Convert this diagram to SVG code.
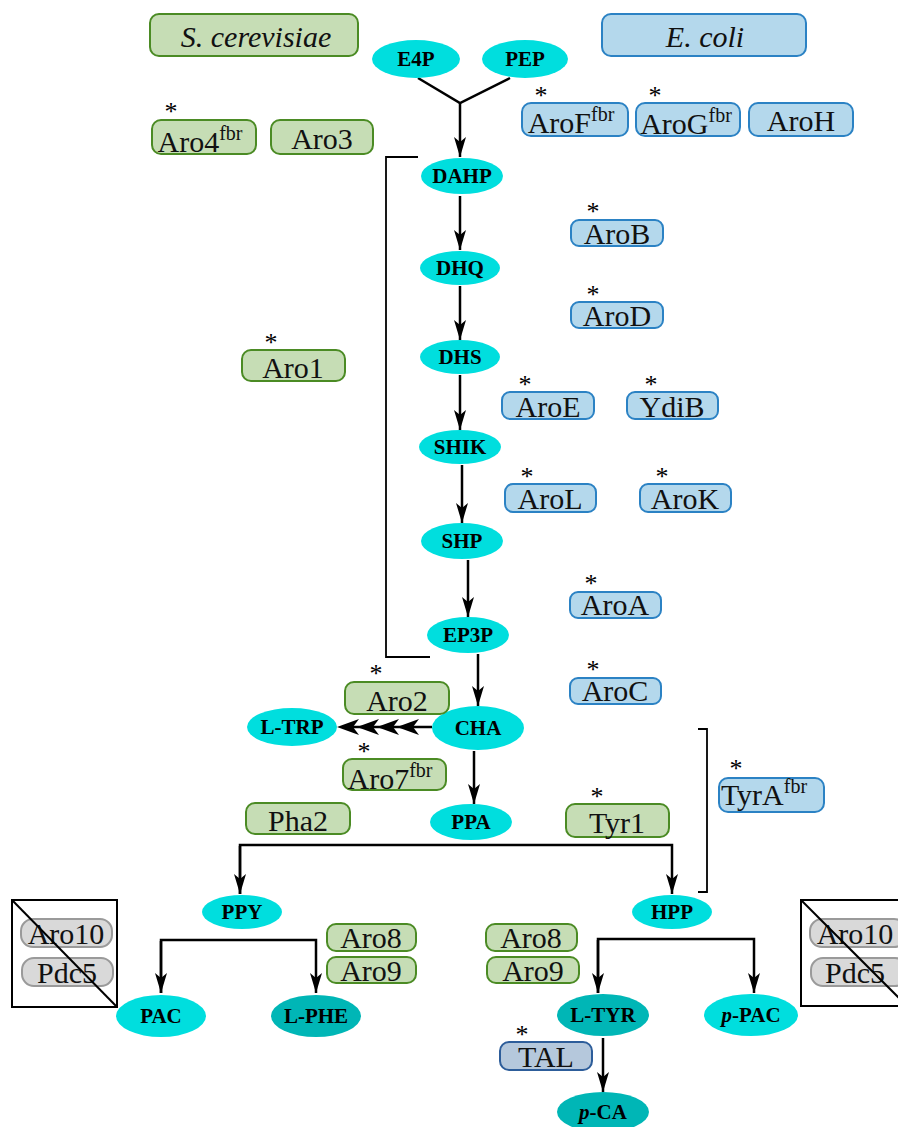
<svg xmlns="http://www.w3.org/2000/svg" width="898" height="1127" viewBox="0 0 898 1127">
<defs>
<marker id="ah" viewBox="0 0 20 12" refX="20" refY="6" markerWidth="20" markerHeight="12" markerUnits="userSpaceOnUse" orient="auto">
<path d="M0,0 L20,6 L0,12 L5,6 Z" fill="#000"/>
</marker>
<style>
.m{fill:#00dede}
.d{fill:#00b6b6}
.mt{font-family:"Liberation Serif",serif;font-weight:bold;font-size:21px;text-anchor:middle;fill:#000}
.g{fill:#c6ddb5;stroke:#4b8b24;stroke-width:2}
.b{fill:#b4d8ec;stroke:#2b82c4;stroke-width:2}
.gr{fill:#d9d9d9;stroke:#9a9a9a;stroke-width:2}
.t{fill:#b5c8dc;stroke:#2d5d9a;stroke-width:2}
.et{font-family:"Liberation Serif",serif;font-size:30px;text-anchor:middle;fill:#111}
.sp{font-size:20px}
.ast{font-family:"Liberation Serif",serif;font-size:26px;text-anchor:middle;fill:#000}
.ln{fill:none;stroke:#000;stroke-width:2.5}
.br{fill:none;stroke:#000;stroke-width:1.8}
</style>
</defs>

<g id="connectors">
<path class="ln" d="M418,78 L460,103 L510,78"/>
<line class="ln" x1="460" y1="103" x2="460" y2="157" marker-end="url(#ah)"/>
<line class="ln" x1="460" y1="196" x2="460" y2="250" marker-end="url(#ah)"/>
<line class="ln" x1="460" y1="286" x2="460" y2="340" marker-end="url(#ah)"/>
<line class="ln" x1="460" y1="375" x2="460" y2="430" marker-end="url(#ah)"/>
<line class="ln" x1="462" y1="465" x2="462" y2="523" marker-end="url(#ah)"/>
<line class="ln" x1="468" y1="560" x2="468" y2="617" marker-end="url(#ah)"/>
<line class="ln" x1="478" y1="654" x2="478" y2="706" marker-end="url(#ah)"/>
<line class="ln" x1="474" y1="751" x2="474" y2="804" marker-end="url(#ah)"/>
<line class="ln" x1="432" y1="727" x2="345" y2="727"/>
<path d="M337,727 L359,719 L353,727 L359,735 Z M357,727 L379,719 L373,727 L379,735 Z M377,727 L399,719 L393,727 L399,735 Z M397,727 L419,719 L413,727 L419,735 Z" fill="#000"/>
<path class="ln" d="M240,894 L240,845 L672,845 L672,894" marker-end="url(#ah)"/>
<line class="ln" x1="240" y1="846" x2="240" y2="894" marker-end="url(#ah)"/>
<path class="ln" d="M161,993 L161,940 L316,940 L316,993" marker-end="url(#ah)"/>
<line class="ln" x1="161" y1="941" x2="161" y2="993" marker-end="url(#ah)"/>
<path class="ln" d="M598,993 L598,939 L754,939 L754,993" marker-end="url(#ah)"/>
<line class="ln" x1="598" y1="940" x2="598" y2="993" marker-end="url(#ah)"/>
<line class="ln" x1="603" y1="1038" x2="603" y2="1092" marker-end="url(#ah)"/>
<path class="br" d="M418,157 L386,157 L386,657 L430,657"/>
<path class="br" d="M698,729 L707,729 L707,892 L698,892"/>
</g>

<g id="n-E4P"><ellipse class="m" cx="416" cy="59" rx="44" ry="19"/><text class="mt" x="416" y="66">E4P</text></g>
<g id="n-PEP"><ellipse class="m" cx="525" cy="59" rx="43" ry="19"/><text class="mt" x="525" y="66">PEP</text></g>
<g id="n-DAHP"><ellipse class="m" cx="462" cy="176" rx="41" ry="18"/><text class="mt" x="462" y="183">DAHP</text></g>
<g id="n-DHQ"><ellipse class="m" cx="460" cy="268" rx="40" ry="17"/><text class="mt" x="460" y="275">DHQ</text></g>
<g id="n-DHS"><ellipse class="m" cx="460" cy="357" rx="40" ry="17"/><text class="mt" x="460" y="364">DHS</text></g>
<g id="n-SHIK"><ellipse class="m" cx="460" cy="447" rx="41" ry="17"/><text class="mt" x="460" y="454">SHIK</text></g>
<g id="n-SHP"><ellipse class="m" cx="462" cy="541" rx="41" ry="18"/><text class="mt" x="462" y="548">SHP</text></g>
<g id="n-EP3P"><ellipse class="m" cx="468" cy="635" rx="41" ry="18"/><text class="mt" x="468" y="642">EP3P</text></g>
<g id="n-CHA"><ellipse class="m" cx="478" cy="728" rx="46" ry="22"/><text class="mt" x="478" y="735">CHA</text></g>
<g id="n-LTRP"><ellipse class="m" cx="292" cy="727" rx="45" ry="19"/><text class="mt" x="292" y="734">L-TRP</text></g>
<g id="n-PPA"><ellipse class="m" cx="471" cy="822" rx="41" ry="18"/><text class="mt" x="471" y="829">PPA</text></g>
<g id="n-PPY"><ellipse class="m" cx="242" cy="912" rx="40" ry="17"/><text class="mt" x="242" y="919">PPY</text></g>
<g id="n-HPP"><ellipse class="m" cx="672" cy="912" rx="40" ry="17"/><text class="mt" x="672" y="919">HPP</text></g>
<g id="n-PAC"><ellipse class="m" cx="161" cy="1016" rx="45" ry="21"/><text class="mt" x="161" y="1023">PAC</text></g>
<g id="n-LPHE"><ellipse class="d" cx="316" cy="1016" rx="45" ry="21"/><text class="mt" x="316" y="1023">L-PHE</text></g>
<g id="n-LTYR"><ellipse class="d" cx="603" cy="1015" rx="46" ry="21"/><text class="mt" x="603" y="1022">L-TYR</text></g>
<g id="n-pPAC"><ellipse class="m" cx="751" cy="1015" rx="47" ry="21"/><text class="mt" x="751" y="1022"><tspan font-style="italic">p</tspan>-PAC</text></g>
<g id="n-pCA"><ellipse class="d" cx="603" cy="1112" rx="46" ry="20"/><text class="mt" x="603" y="1119"><tspan font-style="italic">p</tspan>-CA</text></g>

<g id="e-Scer"><rect class="g" x="150" y="14" width="208" height="42" rx="9"/><text class="et" x="256" y="47" font-size="37" font-style="italic">S. cerevisiae</text></g>
<g id="e-Ecoli"><rect class="b" x="602" y="14" width="204" height="42" rx="9"/><text class="et" x="705" y="47" font-size="37" font-style="italic">E. coli</text></g>

<g id="e-Aro4"><rect class="g" x="152" y="120" width="104" height="34" rx="9"/><text class="ast" x="171" y="120">*</text><text class="et" x="200" y="152">Aro4<tspan class="sp" dy="-12">fbr</tspan></text></g>
<g id="e-Aro3"><rect class="g" x="271" y="120" width="102" height="34" rx="9"/><text class="et" x="322" y="149">Aro3</text></g>
<g id="e-AroF"><rect class="b" x="522" y="103" width="106" height="33" rx="9"/><text class="ast" x="541" y="104">*</text><text class="et" x="571" y="133">AroF<tspan class="sp" dy="-12">fbr</tspan></text></g>
<g id="e-AroG"><rect class="b" x="636" y="103" width="104" height="33" rx="9"/><text class="ast" x="655" y="104">*</text><text class="et" x="686" y="134">AroG<tspan class="sp" dy="-12">fbr</tspan></text></g>
<g id="e-AroH"><rect class="b" x="749" y="103" width="104" height="33" rx="9"/><text class="et" x="801" y="131">AroH</text></g>
<g id="e-AroB"><rect class="b" x="571" y="220" width="92" height="26" rx="8"/><text class="ast" x="593" y="220">*</text><text class="et" x="617" y="244">AroB</text></g>
<g id="e-AroD"><rect class="b" x="571" y="302" width="92" height="26" rx="8"/><text class="ast" x="593" y="303">*</text><text class="et" x="617" y="326">AroD</text></g>
<g id="e-Aro1"><rect class="g" x="242" y="350" width="103" height="31" rx="9"/><text class="ast" x="271" y="351">*</text><text class="et" x="293" y="378">Aro1</text></g>
<g id="e-AroE"><rect class="b" x="502" y="392" width="92" height="27" rx="8"/><text class="ast" x="525" y="393">*</text><text class="et" x="548" y="417">AroE</text></g>
<g id="e-YdiB"><rect class="b" x="627" y="392" width="91" height="27" rx="8"/><text class="ast" x="651" y="393">*</text><text class="et" x="672" y="417">YdiB</text></g>
<g id="e-AroL"><rect class="b" x="505" y="484" width="91" height="28" rx="8"/><text class="ast" x="527" y="485">*</text><text class="et" x="550" y="509">AroL</text></g>
<g id="e-AroK"><rect class="b" x="640" y="484" width="91" height="28" rx="8"/><text class="ast" x="662" y="485">*</text><text class="et" x="685" y="509">AroK</text></g>
<g id="e-AroA"><rect class="b" x="570" y="592" width="91" height="26" rx="8"/><text class="ast" x="591" y="592">*</text><text class="et" x="615" y="615">AroA</text></g>
<g id="e-AroC"><rect class="b" x="570" y="678" width="91" height="26" rx="8"/><text class="ast" x="593" y="678">*</text><text class="et" x="615" y="701">AroC</text></g>
<g id="e-Aro2"><rect class="g" x="345" y="682" width="104" height="32" rx="9"/><text class="ast" x="376" y="682">*</text><text class="et" x="397" y="711">Aro2</text></g>
<g id="e-Aro7"><rect class="g" x="343" y="759" width="103" height="31" rx="9"/><text class="ast" x="364" y="760">*</text><text class="et" x="390" y="789">Aro7<tspan class="sp" dy="-12">fbr</tspan></text></g>
<g id="e-Pha2"><rect class="g" x="246" y="803" width="104" height="31" rx="9"/><text class="et" x="298" y="831">Pha2</text></g>
<g id="e-Tyr1"><rect class="g" x="566" y="804" width="103" height="33" rx="9"/><text class="ast" x="597" y="805">*</text><text class="et" x="617" y="833">Tyr1</text></g>
<g id="e-TyrA"><rect class="b" x="719" y="778" width="105" height="34" rx="9"/><text class="ast" x="736" y="777">*</text><text class="et" x="764" y="805">TyrA<tspan class="sp" dy="-12">fbr</tspan></text></g>

<g id="e-knockout-left">
<rect class="gr" x="21" y="919" width="91" height="28" rx="12"/><text class="et" x="66" y="944">Aro10</text>
<rect class="gr" x="22" y="958" width="91" height="28" rx="12"/><text class="et" x="67" y="983">Pdc5</text>
<rect x="12" y="900" width="105" height="107" fill="none" stroke="#000" stroke-width="2"/>
<line x1="12" y1="900" x2="117" y2="1007" stroke="#000" stroke-width="2"/>
</g>
<g id="e-Aro8L"><rect class="g" x="327" y="924" width="89" height="27" rx="9"/><text class="et" x="371" y="948">Aro8</text></g>
<g id="e-Aro9L"><rect class="g" x="327" y="957" width="89" height="26" rx="9"/><text class="et" x="371" y="981">Aro9</text></g>
<g id="e-Aro8R"><rect class="g" x="486" y="924" width="91" height="27" rx="9"/><text class="et" x="531" y="948">Aro8</text></g>
<g id="e-Aro9R"><rect class="g" x="487" y="957" width="92" height="26" rx="9"/><text class="et" x="533" y="981">Aro9</text></g>
<g id="e-knockout-right">
<rect class="gr" x="810" y="919" width="96" height="28" rx="12"/><text class="et" x="855" y="944">Aro10</text>
<rect class="gr" x="811" y="958" width="96" height="28" rx="12"/><text class="et" x="855" y="983">Pdc5</text>
<rect x="801" y="900" width="110" height="106" fill="none" stroke="#000" stroke-width="2"/>
<line x1="801" y1="900" x2="907" y2="1006" stroke="#000" stroke-width="2"/>
</g>
<g id="e-TAL"><rect class="t" x="500" y="1042" width="92" height="28" rx="9"/><text class="ast" x="522" y="1043">*</text><text class="et" x="546" y="1067">TAL</text></g>
</svg>
